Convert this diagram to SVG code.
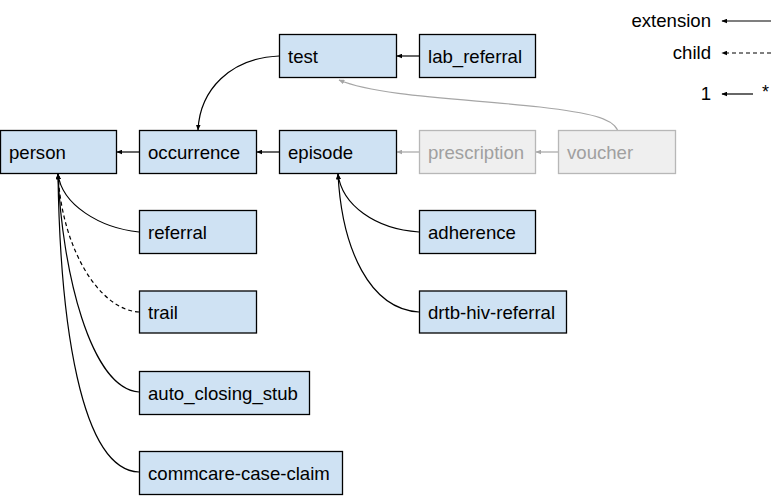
<svg xmlns="http://www.w3.org/2000/svg" width="779" height="502" viewBox="0 0 779 502">
<style>
.n rect{fill:#cfe2f3;stroke:#000;stroke-width:1.3}
.g rect{fill:#efefef;stroke:#b7b7b7;stroke-width:1.3}
text{font-family:"Liberation Sans",Arial,sans-serif;font-size:18.6px;fill:#000}
.g text{fill:#a0a0a0}
.c path{fill:none;stroke:#000;stroke-width:1.2}
.c path.gr{stroke:#a6a6a6}
.c path.d{stroke-dasharray:4 3}
</style>
<defs>
<marker id="a" viewBox="0 0 10 8" refX="9" refY="4" markerWidth="6" markerHeight="5" markerUnits="userSpaceOnUse" orient="auto"><path d="M0,0 L10,4 L0,8 z" fill="#000"/></marker>
<marker id="ag" viewBox="0 0 10 8" refX="9" refY="4" markerWidth="6" markerHeight="5" markerUnits="userSpaceOnUse" orient="auto"><path d="M0,0 L10,4 L0,8 z" fill="#a6a6a6"/></marker>
</defs>
<g id="connectors" class="c">
<path d="M139,152 H117" marker-end="url(#a)"/>
<path d="M279,152 H257" marker-end="url(#a)"/>
<path d="M419,56 H397" marker-end="url(#a)"/>
<path d="M279,56 C230,58 200,90 198,130" marker-end="url(#a)"/>
<path class="gr" d="M419,152 H397" marker-end="url(#ag)"/>
<path class="gr" d="M558,152 H536" marker-end="url(#ag)"/>
<path class="gr" d="M617.5,130 C612,118 590,113 540,107 C470,99 380,97 339,80" marker-end="url(#ag)"/>
<path d="M139,232 C100,228 62,205 58,174" marker-end="url(#a)"/>
<path class="d" d="M139,312 C100,310 62,250 58,174" marker-end="url(#a)"/>
<path d="M139,392 C90,388 62,270 58,174" marker-end="url(#a)"/>
<path d="M139,472 C80,470 60,320 58,174" marker-end="url(#a)"/>
<path d="M419,232 C375,229 342,205 338,174" marker-end="url(#a)"/>
<path d="M419,312 C370,309 342,250 338,174" marker-end="url(#a)"/>
<path d="M771,21 H722" marker-end="url(#a)"/>
<path class="d" d="M771,53 H722" marker-end="url(#a)"/>
<path d="M753,94 H722" marker-end="url(#a)"/>
</g>
<g id="person" class="n"><rect x="0.5" y="130.5" width="116" height="43"/><text x="9" y="159">person</text></g>
<g id="occurrence" class="n"><rect x="139.5" y="130.5" width="117" height="43"/><text x="148" y="159">occurrence</text></g>
<g id="episode" class="n"><rect x="279.5" y="130.5" width="117" height="43"/><text x="288" y="159">episode</text></g>
<g id="test" class="n"><rect x="279.5" y="34.5" width="117" height="43"/><text x="288" y="63">test</text></g>
<g id="lab_referral" class="n"><rect x="419.5" y="34.5" width="116" height="43"/><text x="428" y="63">lab_referral</text></g>
<g id="prescription" class="g"><rect x="419.5" y="130.5" width="116" height="43"/><text x="428" y="159">prescription</text></g>
<g id="voucher" class="g"><rect x="558.5" y="130.5" width="117" height="43"/><text x="567" y="159">voucher</text></g>
<g id="referral" class="n"><rect x="139.5" y="210.5" width="117" height="43"/><text x="148" y="239">referral</text></g>
<g id="trail" class="n"><rect x="139.5" y="291" width="117" height="42"/><text x="148" y="319">trail</text></g>
<g id="auto_closing_stub" class="n"><rect x="139.5" y="371.5" width="170" height="43"/><text x="148" y="400">auto_closing_stub</text></g>
<g id="commcare-case-claim" class="n"><rect x="139.5" y="451.5" width="203" height="43"/><text x="148" y="480">commcare-case-claim</text></g>
<g id="adherence" class="n"><rect x="419.5" y="210.5" width="116" height="43"/><text x="428" y="239">adherence</text></g>
<g id="drtb-hiv-referral" class="n"><rect x="419.5" y="291" width="147" height="42"/><text x="428" y="319">drtb-hiv-referral</text></g>
<g id="legend">
<text x="711" y="27" text-anchor="end">extension</text>
<text x="711" y="59" text-anchor="end">child</text>
<text x="711" y="100" text-anchor="end">1</text>
<text x="762" y="98" style="font-size:18px">*</text>
</g>
</svg>
